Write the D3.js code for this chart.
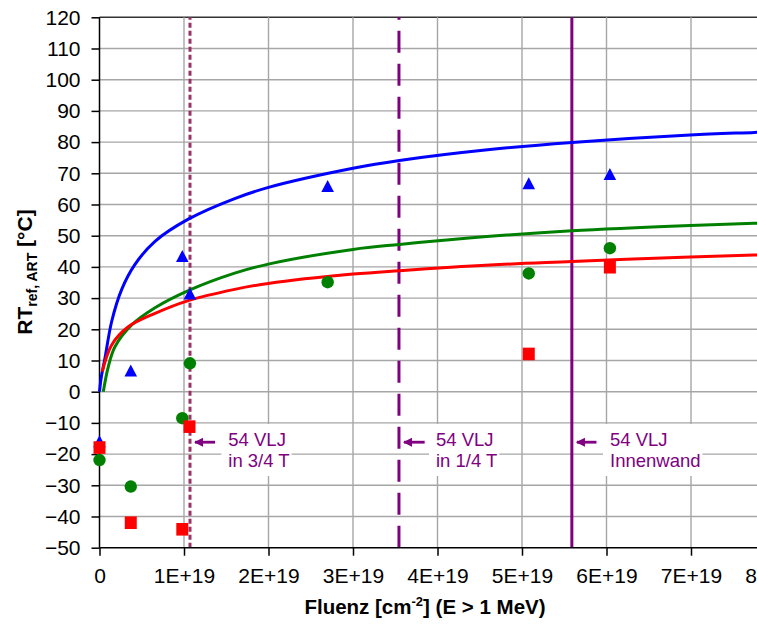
<!DOCTYPE html>
<html>
<head>
<meta charset="utf-8">
<script src="https://cdn.jsdelivr.net/npm/d3@7"></script>
<style>
  body { margin: 0; background: #fff; }
  svg { display: block; font-family: Arial, "Liberation Sans", sans-serif; }
</style>
</head>
<body>
<svg id="chart" width="757" height="629"></svg>
<script>
// ---------- data ----------
const xTicks = [0, 1e19, 2e19, 3e19, 4e19, 5e19, 6e19, 7e19, 8e19];
const yTicks = [-50, -40, -30, -20, -10, 0, 10, 20, 30, 40, 50, 60, 70, 80, 90, 100, 110, 120];

// measured points (fluence, RTref,ART)
const blueX = [0, 0.37e19, 0.98e19, 1.07e19, 2.70e19, 5.08e19, 6.04e19];
const blueY = [-16, 6.7, 43.4, 31.4, 65.8, 66.7, 69.7];
const greenX = [0, 0.37e19, 0.98e19, 1.07e19, 2.70e19, 5.08e19, 6.04e19];
const greenY = [-21.9, -30.4, -8.5, 9.1, 35.1, 37.9, 46.0];
const redX = [0, 0.37e19, 0.98e19, 1.065e19, 5.08e19, 6.04e19];
const redY = [-17.9, -42.0, -44.1, -11.2, 12.1, 39.9];

// trend curves
const blueCurveX = [0, 0.02e19, 0.065e19, 0.144e19, 0.263e19, 0.42e19, 0.657e19, 1.051e19, 1.6e19, 1.99e19, 3.0e19, 3.55e19, 4.62e19, 5.59e19, 6.99e19, 7.75e19, 8e19];
const blueCurveY = [0, 4.5, 10.8, 22.5, 32.8, 40.8, 48.2, 55.3, 61.9, 65.4, 71.6, 74.1, 77.6, 79.9, 82.3, 83.1, 83.4];
const greenCurveX = [0.045e19, 0.104e19, 0.183e19, 0.381e19, 0.657e19, 1.051e19, 1.6e19, 1.998e19, 3.0e19, 3.55e19, 4.62e19, 5.59e19, 6.99e19, 7.75e19, 8e19];
const greenCurveY = [0, 8, 14.4, 21.4, 26.9, 32.4, 38.0, 40.9, 45.6, 47.2, 49.8, 51.6, 53.3, 54.0, 54.2];
const redCurveX = [0.033e19, 0.144e19, 0.341e19, 0.657e19, 1.051e19, 1.6e19, 1.998e19, 3.0e19, 3.55e19, 4.62e19, 5.59e19, 6.99e19, 7.75e19, 8e19];
const redCurveY = [6.4, 15.0, 20.8, 25.1, 29.2, 32.8, 34.7, 37.7, 38.8, 40.6, 41.7, 43.2, 43.8, 44.0];

// vertical markers
const vlineX = [1.071e19, 3.544e19, 5.59e19];
const vlineLabel1 = ["54 VLJ", "54 VLJ", "54 VLJ"];
const vlineLabel2 = ["in 3/4 T", "in 1/4 T", "Innenwand"];

// ---------- layout ----------
const svg = d3.select("#chart");
const x = d3.scaleLinear().domain([0, 8e19]).range([99.5, 775.5]);
const y = d3.scaleLinear().domain([-50, 120]).range([547.7, 17.3]);
const plotTop = y(120), plotBottom = y(-50), plotLeft = x(0);

// gridlines
const grid = svg.append("g");
grid.selectAll(".hg").data(yTicks.filter(d => d !== -50)).join("line")
  .attr("x1", plotLeft).attr("x2", 780)
  .attr("y1", d => y(d)).attr("y2", d => y(d))
  .attr("stroke", d => d === 120 ? "#333" : "#a6a6a6").attr("stroke-width", d => d === 120 ? 1.5 : 1.4);
grid.selectAll(".vg").data(xTicks.filter(d => d !== 0)).join("line")
  .attr("x1", d => x(d)).attr("x2", d => x(d))
  .attr("y1", plotTop).attr("y2", plotBottom)
  .attr("stroke", "#a6a6a6").attr("stroke-width", 1.4);

// label boxes (white) and texts
const labelG = svg.append("g");
const textLeft = [228.3, 436, 610];
vlineX.forEach((v, i) => {
  const t = labelG.append("text")
    .attr("font-size", 18.5).attr("fill", "#800080");
  t.append("tspan").attr("x", textLeft[i]).attr("y", 445.5).text(vlineLabel1[i]);
  t.append("tspan").attr("x", textLeft[i]).attr("y", 466.5).text(vlineLabel2[i]);
  const bb = t.node().getBBox();
  labelG.insert("rect", "text")
    .attr("x", bb.x - 7).attr("y", 424).attr("width", bb.width + 9).attr("height", 52)
    .attr("fill", "#fff");
});

// vertical lines (drawn from bottom upward)
const vstyles = [
  { color: "#993366", dash: "5,3", w: 3 },
  { color: "#800080", dash: "22,11", w: 3 },
  { color: "#800080", dash: null, w: 3 }
];
svg.append("g").selectAll("line").data(vlineX).join("line")
  .attr("x1", d => x(d)).attr("x2", d => x(d))
  .attr("y1", plotBottom).attr("y2", plotTop)
  .attr("stroke", (d, i) => vstyles[i].color)
  .attr("stroke-width", (d, i) => vstyles[i].w)
  .attr("stroke-dasharray", (d, i) => vstyles[i].dash);

// arrows
const defs = svg.append("defs");
defs.append("marker").attr("id", "arr").attr("viewBox", "0 0 10 10")
  .attr("refX", 9).attr("refY", 5).attr("markerWidth", 3.2).attr("markerHeight", 3.4)
  .attr("markerUnits", "strokeWidth").attr("orient", "auto")
  .append("path").attr("d", "M0,0 L10,5 L0,10 Z").attr("fill", "#800080");
const arrowTail = [22, 22.7, 21.6];
svg.append("g").selectAll("line").data(vlineX).join("line")
  .attr("x1", (d, i) => x(d) + 3 + arrowTail[i]).attr("x2", d => x(d) + 5)
  .attr("y1", 442.2).attr("y2", 442.2)
  .attr("stroke", "#800080").attr("stroke-width", 2.8)
  .attr("marker-end", "url(#arr)");

// axes
const yAxis = d3.axisLeft(y).tickValues(yTicks).tickSize(8).tickPadding(11).tickFormat(d3.format("d"));
const gy = svg.append("g").attr("transform", `translate(${plotLeft},0)`).call(yAxis);
const xAxis = d3.axisBottom(x).tickValues(xTicks).tickSize(8).tickPadding(12)
  .tickFormat(d => d === 0 ? "0" : (d / 1e19) + "E+19");
const gx = svg.append("g").attr("transform", `translate(0,${plotBottom})`).call(xAxis);
[gx, gy].forEach(g => {
  g.select(".domain").attr("stroke", "#000").attr("stroke-width", 1.5);
  g.selectAll(".tick line").attr("stroke", "#000").attr("stroke-width", 1.5);
  g.selectAll(".tick text").attr("font-size", 21).attr("fill", "#000")
    .attr("font-family", "Arial, 'Liberation Sans', sans-serif");
});
gx.select(".domain").attr("d", `M${plotLeft},0H780`);
gy.select(".domain").attr("d", `M0,${plotTop}V${plotBottom}`);

// curves
const line = d3.line().x(d => x(d[0])).y(d => y(d[1])).curve(d3.curveCatmullRom.alpha(0.5));
const curves = [
  { xs: blueCurveX, ys: blueCurveY, c: "#0000ff" },
  { xs: greenCurveX, ys: greenCurveY, c: "#008000" },
  { xs: redCurveX, ys: redCurveY, c: "#ff0000" }
];
svg.append("g").selectAll("path").data(curves).join("path")
  .attr("d", d => line(d.xs.map((v, i) => [v, d.ys[i]])))
  .attr("fill", "none").attr("stroke", d => d.c).attr("stroke-width", 3);

// markers
const mg = svg.append("g");
mg.selectAll(".tri").data(blueX.map((v, i) => [v, blueY[i]])).join("path")
  .attr("transform", d => `translate(${x(d[0])},${y(d[1])})`)
  .attr("d", "M0,-6.3L6.3,5.7L-6.3,5.7Z").attr("fill", "#0000ff");
mg.selectAll(".cir").data(greenX.map((v, i) => [v, greenY[i]])).join("circle")
  .attr("cx", d => x(d[0])).attr("cy", d => y(d[1])).attr("r", 6.2).attr("fill", "#008000");
mg.selectAll(".sq").data(redX.map((v, i) => [v, redY[i]])).join("rect")
  .attr("x", d => x(d[0]) - 6).attr("y", d => y(d[1]) - 6.3)
  .attr("width", 12).attr("height", 12.6).attr("fill", "#ff0000");

// axis titles
const yt = svg.append("text").attr("transform", "translate(32,272) rotate(-90)")
  .attr("text-anchor", "middle").attr("font-weight", "bold").attr("font-size", 21).attr("fill", "#000");
yt.append("tspan").text("RT");
yt.append("tspan").attr("font-size", 14).attr("dy", 5).text("ref, ART");
yt.append("tspan").attr("dy", -5).text(" [°C]");

const xt = svg.append("text").attr("x", 425).attr("y", 614)
  .attr("text-anchor", "middle").attr("font-weight", "bold").attr("font-size", 20.5).attr("fill", "#000");
xt.append("tspan").text("Fluenz [cm");
xt.append("tspan").attr("font-size", 13).attr("dy", -8).text("-2");
xt.append("tspan").attr("dy", 8).text("] (E > 1 MeV)");
</script>
</body>
</html>
